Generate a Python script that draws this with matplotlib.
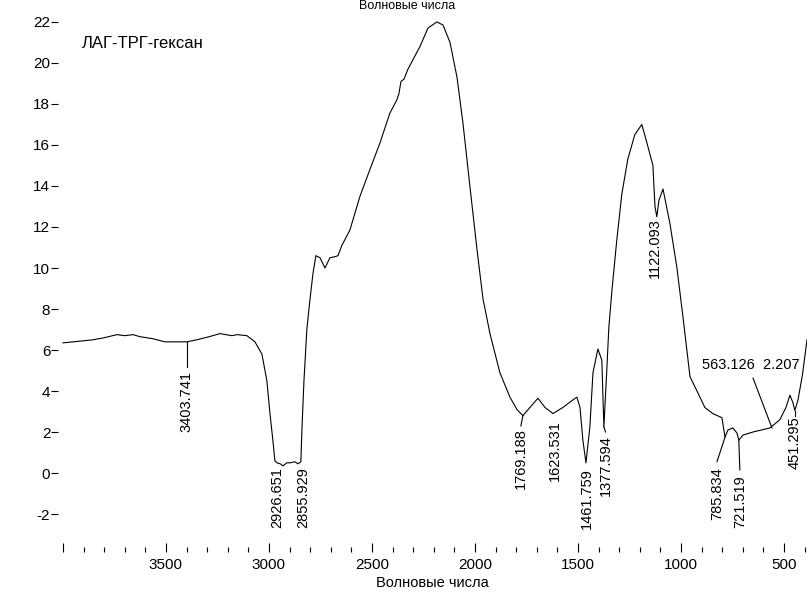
import matplotlib
matplotlib.use("Agg")
import matplotlib.pyplot as plt
from matplotlib.ticker import FixedLocator, MultipleLocator

plt.rcParams["axes.unicode_minus"] = False

# spectrum (wavenumber, value)
wavenumber = [4000, 3950, 3900, 3854, 3800, 3738, 3700, 3660, 3626, 3563,
              3505, 3450, 3398, 3350, 3290, 3238, 3180, 3155, 3107, 3068,
              3034, 3010, 2995, 2981, 2971, 2961, 2945, 2932, 2913, 2898,
              2874, 2859, 2845, 2840, 2830, 2816, 2801, 2786, 2772, 2752,
              2728, 2704, 2680, 2665, 2646, 2607, 2558, 2510, 2461, 2413,
              2379, 2369, 2359, 2345, 2325, 2267, 2228, 2185, 2155, 2121,
              2087, 2058, 2024, 1990, 1961, 1927, 1879, 1830, 1796, 1767,
              1733, 1694, 1660, 1621, 1573, 1520, 1505, 1490, 1476, 1461,
              1442, 1427, 1403, 1384, 1374, 1359, 1350, 1335, 1311, 1287,
              1258, 1224, 1190, 1165, 1136, 1126, 1117, 1107, 1087, 1054,
              1020, 990, 956, 922, 884, 845, 801, 786, 772, 748,
              728, 719, 699, 651, 568, 520, 490, 471, 457, 447,
              432, 410, 388]
signal = [6.35, 6.4, 6.45, 6.5, 6.6, 6.75, 6.7, 6.75, 6.65, 6.55,
          6.4, 6.4, 6.4, 6.5, 6.65, 6.8, 6.7, 6.75, 6.7, 6.4,
          5.8, 4.5, 2.9, 1.6, 0.6, 0.5, 0.45, 0.35, 0.5, 0.5,
          0.55, 0.45, 0.55, 2.1, 4.5, 7.0, 8.45, 9.75, 10.6, 10.5,
          10.0, 10.5, 10.55, 10.6, 11.1, 11.85, 13.5, 14.8, 16.1, 17.55,
          18.2, 18.5, 19.1, 19.2, 19.7, 20.8, 21.7, 22.0, 21.85, 21.0,
          19.3, 17.05, 13.95, 10.9, 8.5, 6.8, 4.9, 3.7, 3.1, 2.8,
          3.2, 3.65, 3.2, 2.9, 3.2, 3.6, 3.7, 3.2, 1.6, 0.5,
          2.25, 4.9, 6.05, 5.5, 2.25, 5.2, 7.1, 8.9, 11.4, 13.6,
          15.3, 16.5, 17.0, 16.1, 15.0, 13.0, 12.5, 13.3, 13.85, 12.2,
          10.05, 7.6, 4.7, 4.0, 3.2, 2.9, 2.7, 1.75, 2.1, 2.2,
          1.95, 1.6, 1.85, 2.0, 2.2, 2.6, 3.2, 3.8, 3.45, 3.05,
          3.55, 4.8, 6.5]

# peak labels
peak_labels = ["3403.741", "2926.651", "2855.929", "1769.188", "1623.531",
               "1461.759", "1377.594", "1122.093", "785.834", "721.519",
               "451.295"]
peak_x = [3398, 2960, 2835, 1777, 1612, 1456, 1364, 1126, 825, 714, 447]
peak_top = [5.0, 0.3, 0.3, 2.2, 2.6, 0.25, 1.85, 12.45, 0.3, -0.1, 2.75]
# leader lines: (curve point) -> (label end)
leaders = [((3398, 6.4), (3398, 5.15)),
           ((1767, 2.8), (1777, 2.3)),
           ((1374, 2.25), (1366, 2.0)),
           ((786, 1.75), (825, 0.55)),
           ((719, 1.6), (714, 0.15)),
           ((447, 3.05), (447, 2.8)),
           ((558, 2.2), (650, 4.63))]
extra_label = "563.126  2.207"

face = ["Liberation Sans", "DejaVu Sans"]

fig = plt.figure(figsize=(8.07, 5.95), dpi=100)
ax = fig.add_axes([58 / 807, 43 / 595, 1 - 58 / 807, 1 - 43 / 595])
ax.plot(wavenumber, signal, color="black", lw=0.8)

for (x0, y0), (x1, y1) in leaders:
    ax.plot([x0, x1], [y0, y1], color="black", lw=0.8)
for lab, x, top in zip(peak_labels, peak_x, peak_top):
    ax.text(x, top, lab, rotation=90, ha="center", va="top",
            fontsize=10.5, family=face)
ax.text(660, 5.25, extra_label, ha="center", va="center",
        fontsize=10.5, family=face)

ax.set_xlim(4024, 388)
ax.set_ylim(-3.85, 23.07)
for s in ax.spines.values():
    s.set_visible(False)

ax.xaxis.set_major_locator(FixedLocator([500, 1000, 1500, 2000, 2500, 3000, 3500, 4000]))
ax.xaxis.set_minor_locator(MultipleLocator(100))
ax.set_xticklabels(["500", "1000", "1500", "2000", "2500", "3000", "3500", ""])
ax.tick_params(axis="x", which="major", direction="in", length=6.5, width=0.8, pad=4)
ax.tick_params(axis="x", which="minor", direction="in", length=3.6, width=0.8)
ax.set_yticks(range(-2, 23, 2))
ax.tick_params(axis="y", direction="out", length=5, width=0.8, pad=0.5)
for lab in ax.get_xticklabels() + ax.get_yticklabels():
    lab.set_family(face)
    lab.set_fontsize(11)

ax.set_xlabel("Волновые числа", family=face, fontsize=10.5, labelpad=3)
fig.text(407 / 807, 1.0, "Волновые числа", ha="center", va="top",
         family=face, fontsize=9)
fig.text(82 / 807, 1 - 44 / 595, "ЛАГ-ТРГ-гексан", ha="left", va="center",
         family=face, fontsize=12)

fig.savefig("out.png", dpi=100)
